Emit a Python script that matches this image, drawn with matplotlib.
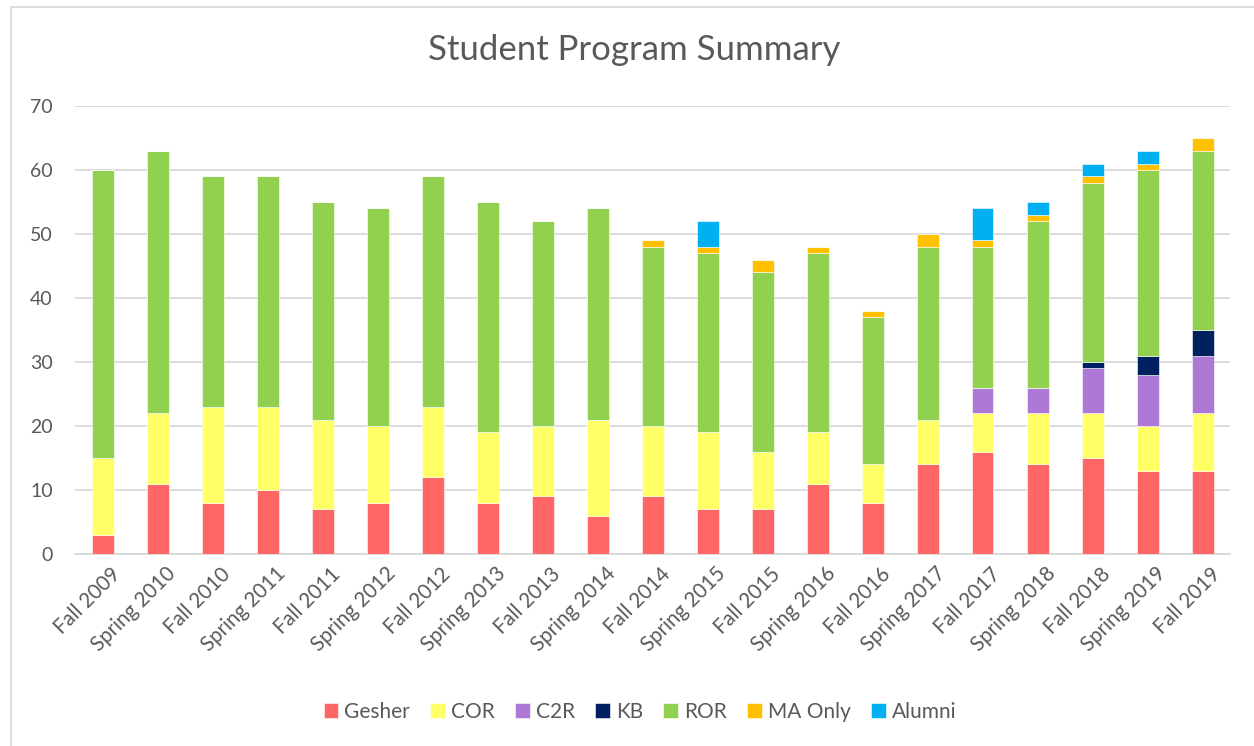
import matplotlib
matplotlib.use('Agg')
import matplotlib.pyplot as plt
from matplotlib.patches import Rectangle
import numpy as np

semesters = ['Fall 2009', 'Spring 2010', 'Fall 2010', 'Spring 2011', 'Fall 2011',
             'Spring 2012', 'Fall 2012', 'Spring 2013', 'Fall 2013', 'Spring 2014',
             'Fall 2014', 'Spring 2015', 'Fall 2015', 'Spring 2016', 'Fall 2016',
             'Spring 2017', 'Fall 2017', 'Spring 2018', 'Fall 2018', 'Spring 2019',
             'Fall 2019']

gesher  = [3, 11, 8, 10, 7, 8, 12, 8, 9, 6, 9, 7, 7, 11, 8, 14, 16, 14, 15, 13, 13]
cor     = [12, 11, 15, 13, 14, 12, 11, 11, 11, 15, 11, 12, 9, 8, 6, 7, 6, 8, 7, 7, 9]
c2r     = [0, 0, 0, 0, 0, 0, 0, 0, 0, 0, 0, 0, 0, 0, 0, 0, 4, 4, 7, 8, 9]
kb      = [0, 0, 0, 0, 0, 0, 0, 0, 0, 0, 0, 0, 0, 0, 0, 0, 0, 0, 1, 3, 4]
ror     = [45, 41, 36, 36, 34, 34, 36, 36, 32, 33, 28, 28, 28, 28, 23, 27, 22, 26, 28, 29, 28]
ma_only = [0, 0, 0, 0, 0, 0, 0, 0, 0, 0, 1, 1, 2, 1, 1, 2, 1, 1, 1, 1, 2]
alumni  = [0, 0, 0, 0, 0, 0, 0, 0, 0, 0, 0, 4, 0, 0, 0, 0, 5, 2, 2, 2, 0]

series = [('Gesher', gesher, '#FF6666'),
          ('COR', cor, '#FFFF66'),
          ('C2R', c2r, '#AE78D6'),
          ('KB', kb, '#002060'),
          ('ROR', ror, '#92D050'),
          ('MA Only', ma_only, '#FFC000'),
          ('Alumni', alumni, '#00B0F0')]

plt.rcParams['font.family'] = ['Lato', 'DejaVu Sans']
txt = '#595959'

W, H = 1254, 746
fig = plt.figure(figsize=(W / 100, H / 100), dpi=100)
ax = fig.add_axes([75 / W, 1 - 554 / H, 1155 / W, 448 / H])

x = np.arange(len(semesters))
bottom = np.zeros(len(semesters))
for name, vals, col in series:
    vals = np.array(vals, dtype=float)
    ax.bar(x, vals, 0.4, bottom=bottom, color=col, label=name,
           edgecolor='white', linewidth=0.4, zorder=3)
    bottom += vals

ax.set_xlim(-0.5, len(semesters) - 0.5)
ax.set_ylim(0, 70)
ax.set_yticks(range(0, 71, 10))
ax.yaxis.grid(True, color='#d9d9d9', linewidth=1.3, zorder=0)
for s in ['top', 'right', 'left']:
    ax.spines[s].set_visible(False)
ax.spines['bottom'].set_color('#d9d9d9')
ax.spines['bottom'].set_linewidth(1.3)
ax.tick_params(axis='both', length=0, colors=txt, labelsize=14)
ax.tick_params(axis='y', pad=16)
ax.tick_params(axis='x', pad=7)
ax.set_xticks(x + 0.15)
ax.set_xticklabels(semesters, rotation=45, ha='right', rotation_mode='anchor',
                   fontsize=14.8)

fig.text(634 / W, 1 - 50 / H, 'Student Program Summary', ha='center', va='center',
         fontsize=25, color=txt)

handles, labels = ax.get_legend_handles_labels()
fig.legend(handles, labels, loc='center', bbox_to_anchor=(640 / W, 1 - 712 / H),
           ncol=7, frameon=False, fontsize=15, labelcolor=txt,
           handlelength=0.7, handleheight=0.7, handletextpad=0.3, columnspacing=0.97)

fig.patches.append(Rectangle((11 / W, -0.01), 1.1, 1 - 7 / H + 0.01,
                             transform=fig.transFigure, fill=False,
                             edgecolor='#d9d9d9', linewidth=1.3))

fig.savefig('out.png', dpi=100, facecolor='white')
